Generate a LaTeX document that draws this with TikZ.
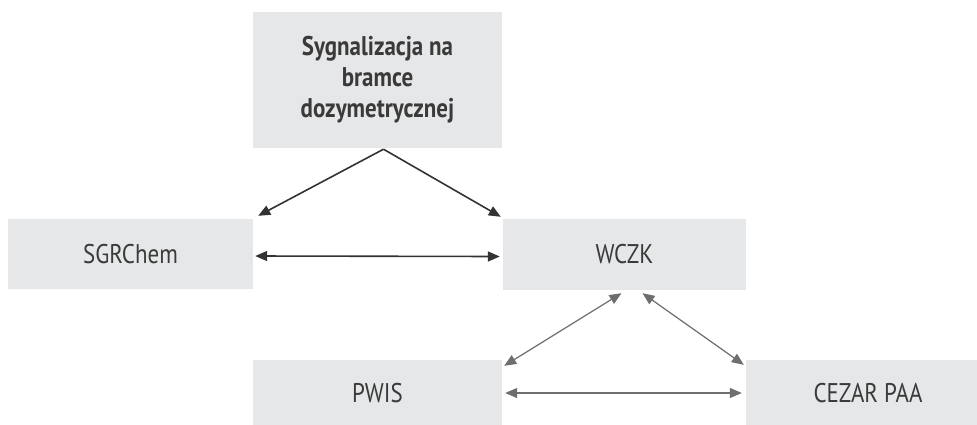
\documentclass[tikz,border=0pt]{standalone}
\usepackage{fontspec}
\setmainfont[FakeStretch=0.85]{PT Sans}
\usetikzlibrary{arrows.meta,calc}
\definecolor{boxfill}{HTML}{E6E7E8}
\definecolor{txt}{HTML}{3A3A3A}
\definecolor{darkarr}{HTML}{333333}
\definecolor{grayarr}{HTML}{6E6E6E}
\begin{document}
\begin{tikzpicture}[x=1pt,y=-1pt,
  box/.style={rectangle,fill=boxfill,inner sep=0pt,text=txt,font=\fontsize{27}{31}\selectfont,align=center},
  tip/.style={-{Triangle[length=12pt,width=10pt]}},
  dtip/.style={{Triangle[length=12pt,width=10pt]}-{Triangle[length=12pt,width=10pt]}},
  darkline/.style={draw=darkarr,fill=darkarr,line width=1.6pt},
  grayline/.style={draw=grayarr,fill=grayarr,line width=1.2pt}]
\useasboundingbox (0,0) rectangle (977,424);
\clip (0,0) rectangle (977,424);
\fill[white] (0,0) rectangle (977,424);
\node[box,minimum width=249pt,minimum height=136pt,font=\fontsize{27}{31}\selectfont\bfseries] (top) at (377.5,80) {Sygnalizacja na\\bramce\\dozymetrycznej};
\node[box,minimum width=245pt,minimum height=70pt] (sgr) at (130.5,254) {SGRChem};
\node[box,minimum width=243pt,minimum height=71pt] (wczk) at (624.5,254.5) {WCZK};
\node[box,minimum width=249pt,minimum height=66pt] (pwis) at (377.5,393) {PWIS};
\node[box,minimum width=244pt,minimum height=66pt] (cezar) at (868,393) {CEZAR PAA};
\coordinate (apex) at ($(top.south)+(6,1)$);
\draw[darkline,tip] (apex) -- ($(sgr.north east)+(5,-3)$);
\draw[darkline,tip] (apex) -- ($(wczk.north west)+(-2,-2)$);
\draw[darkline,dtip] ($(sgr.east)+(2,2)$) -- ($(wczk.west)+(-3,2)$);
\draw[grayline,dtip] ($(wczk.south)+(-3,3)$) -- ($(pwis.north east)+(2,6)$);
\draw[grayline,dtip] ($(wczk.south)+(18,3)$) -- ($(cezar.north west)+(-2,5)$);
\draw[grayline,dtip] ($(pwis.east)+(3,0)$) -- ($(cezar.west)+(-4,0)$);
\end{tikzpicture}
\end{document}
